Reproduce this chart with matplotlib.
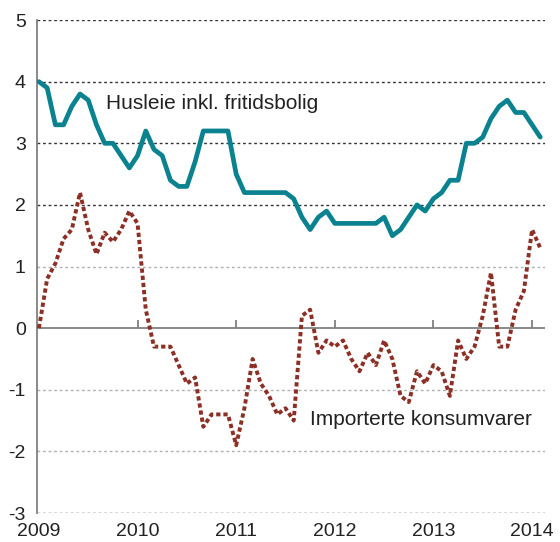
import numpy as np
import matplotlib
matplotlib.use("Agg")
import matplotlib.pyplot as plt

plt.rcParams["font.family"] = ["Liberation Sans", "DejaVu Sans"]

# =====================================
# Data: monthly, Jan 2009 - Feb 2014
# =====================================
start_year = 2009
husleie = [4.0, 3.9, 3.3, 3.3, 3.6, 3.8, 3.7, 3.3, 3.0, 3.0, 2.8, 2.6,
           2.8, 3.2, 2.9, 2.8, 2.4, 2.3, 2.3, 2.7, 3.2, 3.2, 3.2, 3.2,
           2.5, 2.2, 2.2, 2.2, 2.2, 2.2, 2.2, 2.1, 1.8, 1.6, 1.8, 1.9,
           1.7, 1.7, 1.7, 1.7, 1.7, 1.7, 1.8, 1.5, 1.6, 1.8, 2.0, 1.9,
           2.1, 2.2, 2.4, 2.4, 3.0, 3.0, 3.1, 3.4, 3.6, 3.7, 3.5, 3.5,
           3.3, 3.1]
importerte = [0.0, 0.8, 1.05, 1.45, 1.6, 2.2, 1.6, 1.2, 1.55, 1.4, 1.6, 1.9,
              1.7, 0.3, -0.3, -0.3, -0.3, -0.6, -0.9, -0.8, -1.6, -1.4, -1.4, -1.4,
              -1.9, -1.3, -0.5, -0.9, -1.1, -1.4, -1.3, -1.5, 0.2, 0.3, -0.4, -0.2,
              -0.3, -0.2, -0.5, -0.7, -0.4, -0.6, -0.2, -0.5, -1.1, -1.2, -0.7, -0.9,
              -0.6, -0.7, -1.1, -0.2, -0.5, -0.3, 0.2, 0.9, -0.3, -0.3, 0.3, 0.6,
              1.6, 1.3]
year_ticks = [2009, 2010, 2011, 2012, 2013, 2014]
y_ticks = [-3, -2, -1, 0, 1, 2, 3, 4, 5]

x = start_year + np.arange(len(husleie)) / 12.0

teal = "#0b8290"
red = "#8c2f25"
text_col = "#222222"

fig = plt.figure(figsize=(5.6, 5.42), dpi=100)
ax = fig.add_axes([0.066, 0.0535, 0.907, 0.9095])

ax.set_xlim(2008.98, 2014.13)
ax.set_ylim(-3, 5)

# --- gridlines: dark dotted in upper part, light dotted below ---
for v in y_ticks:
    if v == 0:
        continue
    dark = v >= 2 or v == -3
    ax.axhline(v, color="#333333" if dark else "#b0b0b0",
               lw=1.0, linestyle=(0, (2, 2)), zorder=1)

# zero line with year ticks pointing up
ax.axhline(0, color="#808080", lw=1.3, zorder=2)
ax.vlines(year_ticks[1:], 0, 0.14, color="#808080", lw=1.3, zorder=2)

# --- series ---
ax.plot(x, husleie, color=teal, lw=3.4, solid_joinstyle="round",
        solid_capstyle="round", zorder=4)
ax.plot(x, importerte, color=red, lw=2.8, linestyle=(0, (1.1, 0.75)),
        dash_capstyle="butt", zorder=3)

# --- labels ---
ax.text(2009.68, 3.64, "Husleie inkl. fritidsbolig", fontsize=15,
        color=text_col, va="center", ha="left")
ax.text(2011.75, -1.49, "Importerte konsumvarer", fontsize=15,
        color=text_col, va="center", ha="left")

# --- axes styling ---
for s in ["top", "right", "bottom"]:
    ax.spines[s].set_visible(False)
ax.spines["left"].set_color("#808080")
ax.spines["left"].set_linewidth(1.3)

ax.set_yticks(y_ticks)
ax.set_yticklabels([str(v) for v in y_ticks])
ax.set_xticks(year_ticks)
ax.set_xticklabels([str(v) for v in year_ticks])
ax.tick_params(axis="both", length=0, labelsize=14, colors=text_col)
ax.tick_params(axis="y", pad=8)
ax.tick_params(axis="x", pad=7)

fig.savefig("out.png", dpi=100)
